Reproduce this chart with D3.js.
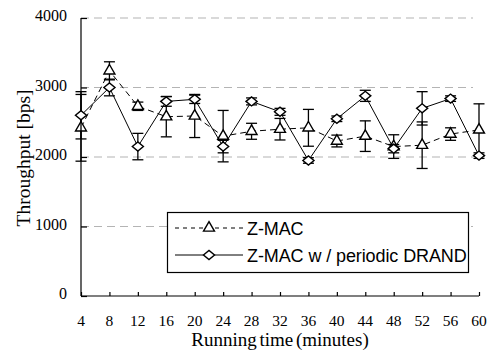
<!DOCTYPE html>
<html>
<head>
<meta charset="utf-8">
<script src="https://cdn.jsdelivr.net/npm/d3@7"></script>
<style>
  body { margin: 0; background: #fff; }
  svg { display: block; }
  .serif { font-family: "Liberation Serif", "Times New Roman", Times, serif; }
  .sans { font-family: "Liberation Sans", Arial, Helvetica, sans-serif; }
</style>
</head>
<body>
<svg id="chart" width="487" height="351"></svg>
<script>
// values
const minutes = [4, 8, 12, 16, 20, 24, 28, 32, 36, 40, 44, 48, 52, 56, 60];
const zmac = [2420, 3240, 2730, 2580, 2590, 2300, 2370, 2400, 2420, 2230, 2300, 2150, 2170, 2330, 2390];
const zmacErr = [480, 130, 60, 290, 310, 370, 115, 155, 265, 85, 220, 170, 335, 90, 375];
const drand = [2600, 3000, 2150, 2800, 2830, 2150, 2800, 2650, 1950, 2550, 2880, 2120, 2700, 2840, 2020];
const drandErr = [340, 120, 190, 70, 60, 90, 50, 50, 40, 40, 80, 60, 240, 40, 40];
const yTicks = [0, 1000, 2000, 3000, 4000];
const seriesNames = ['Z-MAC', 'Z-MAC w / periodic DRAND'];

const svg = d3.select('#chart');

const x = d3.scaleLinear().domain([4, 60]).range([81, 479]);
const y = d3.scaleLinear().domain([0, 4000]).range([296, 18]);

// dashed grid
svg.append('g')
  .selectAll('line')
  .data(yTicks.filter(d => d > 0))
  .enter()
  .append('line')
  .attr('x1', x(4)).attr('x2', 473)
  .attr('y1', d => y(d)).attr('y2', d => y(d))
  .attr('stroke', '#b4b4b4')
  .attr('stroke-width', 1.2)
  .attr('stroke-dasharray', '8,5');

// axes
const yAxis = svg.append('g')
  .attr('transform', `translate(${x(4)},0)`)
  .call(d3.axisRight(y).tickValues(yTicks).tickSize(6).tickFormat(''));
yAxis.select('.domain').attr('d', `M0,${y(4000)}V${y(0)}`);

const xAxis = svg.append('g')
  .attr('transform', `translate(0,${y(0)})`)
  .call(d3.axisTop(x).tickValues(minutes).tickSize(4).tickFormat(''));
xAxis.select('.domain').attr('d', `M${x(4)},0H${x(60)}`);

svg.selectAll('.domain, .tick line').attr('stroke', '#000').attr('stroke-width', 1.2);

// tick labels
svg.append('g')
  .selectAll('text')
  .data(yTicks)
  .enter()
  .append('text')
  .attr('class', 'serif')
  .attr('x', 67)
  .attr('y', d => y(d) + 3)
  .attr('text-anchor', 'end')
  .attr('font-size', 16)
  .text(d => d);

svg.append('g')
  .selectAll('text')
  .data(minutes)
  .enter()
  .append('text')
  .attr('class', 'serif')
  .attr('x', d => x(d))
  .attr('y', 325.5)
  .attr('text-anchor', 'middle')
  .attr('font-size', 15.5)
  .text(d => d);

// axis titles
svg.append('text')
  .attr('class', 'serif')
  .attr('x', 280).attr('y', 346)
  .attr('text-anchor', 'middle')
  .attr('font-size', 19)
  .attr('word-spacing', -2)
  .text('Running time (minutes)');

svg.append('text')
  .attr('class', 'serif')
  .attr('transform', 'translate(30,158) rotate(-90)')
  .attr('text-anchor', 'middle')
  .attr('font-size', 19.5)
  .text('Throughput [bps]');

// wide, flat diamond like the original marker
const flatDiamond = {
  draw(ctx, size) {
    const w = Math.sqrt(size) * 0.8, h = w * 0.82;
    ctx.moveTo(-w, 0); ctx.lineTo(0, -h); ctx.lineTo(w, 0); ctx.lineTo(0, h); ctx.closePath();
  }
};
const tri = d3.symbol().type(d3.symbolTriangle).size(52);
const dia = d3.symbol().type(flatDiamond).size(48);

function drawSeries(vals, errs, dash, sym) {
  const pts = minutes.map((m, i) => ({ m: m, v: vals[i], e: errs[i] }));
  const g = svg.append('g');

  g.append('path')
    .datum(pts)
    .attr('fill', 'none')
    .attr('stroke', '#000')
    .attr('stroke-width', 1)
    .attr('stroke-dasharray', dash)
    .attr('d', d3.line().x(d => x(d.m)).y(d => y(d.v)));

  // error bars
  const eb = g.selectAll('.eb').data(pts).enter().append('g');
  eb.append('line')
    .attr('x1', d => x(d.m)).attr('x2', d => x(d.m))
    .attr('y1', d => y(d.v + d.e)).attr('y2', d => y(d.v - d.e));
  eb.append('line')
    .attr('x1', d => x(d.m) - 5.5).attr('x2', d => x(d.m) + 5.5)
    .attr('y1', d => y(d.v + d.e)).attr('y2', d => y(d.v + d.e));
  eb.append('line')
    .attr('x1', d => x(d.m) - 5.5).attr('x2', d => x(d.m) + 5.5)
    .attr('y1', d => y(d.v - d.e)).attr('y2', d => y(d.v - d.e));
  eb.selectAll('line').attr('stroke', '#000').attr('stroke-width', 1.3);

  g.selectAll('.mk')
    .data(pts)
    .enter()
    .append('path')
    .attr('d', sym)
    .attr('transform', d => `translate(${x(d.m)},${y(d.v)})`)
    .attr('fill', '#fff')
    .attr('stroke', '#000')
    .attr('stroke-width', 1.4);
}

drawSeries(zmac, zmacErr, '6,4', tri);
drawSeries(drand, drandErr, null, dia);

// legend
const lg = svg.append('g');
lg.append('rect')
  .attr('x', 167.5).attr('y', 212.5)
  .attr('width', 301).attr('height', 60)
  .attr('fill', '#fff')
  .attr('stroke', '#000')
  .attr('stroke-width', 1.2);

seriesNames.forEach((name, i) => {
  const ly = 228 + i * 27;
  lg.append('line')
    .attr('x1', 175).attr('x2', 243)
    .attr('y1', ly).attr('y2', ly)
    .attr('stroke', '#000')
    .attr('stroke-width', 1)
    .attr('stroke-dasharray', i === 0 ? '4,4' : null);
  lg.append('path')
    .attr('d', i === 0 ? tri : dia)
    .attr('transform', `translate(209,${ly})`)
    .attr('fill', '#fff')
    .attr('stroke', '#000')
    .attr('stroke-width', 1.4);
  lg.append('text')
    .attr('class', 'sans')
    .attr('x', 247).attr('y', ly + 6.5)
    .attr('font-size', 18)
    .attr('letter-spacing', -0.1)
    .text(name);
});
</script>
</body>
</html>
